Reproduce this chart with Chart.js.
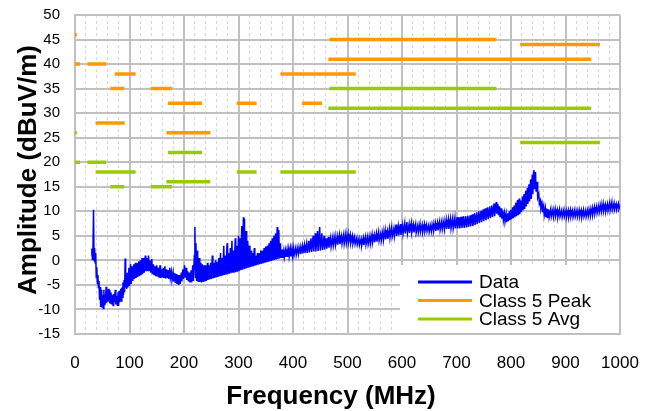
<!DOCTYPE html>
<html lang="en">
<head>
<meta charset="UTF-8">
<title>Radiated Emissions vs Class 5 Limits</title>
<script src="https://cdn.jsdelivr.net/npm/chart.js"></script>
<style>
  body { margin: 0; background: #fff; }
  .wrap { width: 647px; height: 411px; position: relative; }
</style>
</head>
<body>
<div class="wrap"><canvas id="chart"></canvas></div>
<script>
// limit bands (MHz) and their class 5 levels (dBuV/m)
const bandStart = [0.15, 0.53, 5.9, 26, 30, 41, 68, 76, 142, 171, 174, 300, 380, 420, 468, 470, 820];
const bandStop  = [0.30, 1.8, 6.2, 28, 54, 88, 87, 108, 175, 245, 230, 330, 512, 450, 944, 770, 960];
const peakLimit = [46, 40, 40, 40, 40, 28, 35, 38, 35, 26, 32, 32, 38, 32, 41, 45, 44];
const avgLimit  = [26, 20, 20, 20, 20, 18, 15, 18, 15, 16, 22, 18, 18, 18, 31, 35, 24];

const xTitle = 'Frequency (MHz)';
const yTitle = 'Amplitude (dBuV/m)';

const traceData = [
  [30,1.0],[31,2.4],[32,0.2],[33,2.8],[34,10.3],[35,0.0],[36,2.5],[37,-0.5],[38,1.5],[39,-3.5],
  [40,-1.4],[41,-4.7],[42,-3.0],[43,-5.5],[44,-4.2],[45,-8.0],[46,-5.4],[47,-9.5],[48,-6.0],[49,-9.6],
  [50,-7.0],[51,-9.0],[52,-9.8],[53,-6.0],[54,-9.0],[55,-7.0],[56,-8.8],[57,-5.4],[58,-8.6],[59,-6.5],
  [60,-8.5],[61,-5.8],[62,-8.3],[63,-6.0],[64,-8.8],[66,-6.5],[67,-9.0],[68,-7.0],[70,-9.2],[71,-6.8],
  [72,-8.5],[74,-6.0],[75,-9.0],[76,-7.2],[78,-9.3],[79,-6.5],[80,-9.3],[81,-6.2],[82,-8.5],[84,-5.8],
  [85,-8.3],[86,-5.5],[87,-7.5],[88,-4.5],[89,-7.0],[90,-4.0],[91,-6.5],[92,0.4],[93,-5.5],[94,-3.0],
  [95,-5.8],[96,-2.5],[97,-5.5],[99,-1.5],[100,-5.2],[102,-0.8],[103,-4.8],[105,-1.2],[106,-4.2],[108,-0.8],
  [109,-3.8],[111,-0.5],[112,-3.6],[114,-0.5],[115,-3.4],[117,-0.2],[118,-3.2],[120,0.0],[121,-3.0],[123,0.5],
  [124,-2.8],[126,0.5],[127,-2.5],[129,1.0],[130,-2.2],[132,0.5],[133,-2.2],[135,1.0],[136,-2.2],[138,0.0],
  [139,-2.5],[141,0.3],[142,-2.8],[144,-0.8],[145,-3.0],[147,-1.2],[148,-3.2],[150,-1.0],[151,-3.3],[153,-1.5],
  [154,-3.5],[156,-1.0],[157,-3.6],[159,-1.8],[160,-3.5],[162,-1.5],[163,-3.6],[165,-1.2],[166,-3.7],[168,-1.8],
  [169,-3.6],[171,-2.0],[172,-3.8],[174,-1.5],[175,-3.6],[177,-2.3],[178,-4.0],[180,-2.5],[181,-4.3],[183,-2.6],
  [184,-4.6],[186,-2.8],[187,-4.8],[189,-3.0],[190,-5.0],[192,-3.0],[193,-4.8],[195,-2.5],[196,-4.3],[198,-1.8],
  [199,-3.8],[201,-1.0],[202,-3.5],[204,-1.5],[205,-4.0],[207,-2.2],[208,-4.3],[210,-2.5],[211,-4.5],[213,-2.0],
  [214,-4.5],[216,-1.0],[217,-4.2],[219,1.0],[220,6.8],[221,-3.5],[222,3.5],[223,-4.2],[225,2.0],[226,-4.4],
  [228,0.5],[229,-4.4],[231,-0.5],[232,-4.5],[234,-0.8],[235,-4.4],[237,-1.0],[238,-4.3],[240,-1.0],[241,-4.2],
  [243,-0.5],[244,-4.0],[246,-1.0],[247,-3.9],[249,-0.5],[250,-3.8],[252,1.0],[253,-3.7],[255,-0.5],[256,-3.6],
  [258,0.0],[259,-3.5],[261,-0.3],[262,-3.4],[264,0.5],[265,-3.3],[267,1.5],[268,-3.2],[270,0.5],[271,-3.1],
  [273,3.0],[274,-3.0],[276,1.0],[277,-2.9],[279,3.5],[280,-2.8],[282,1.5],[283,-2.7],[285,2.5],[286,-2.6],
  [288,4.0],[289,-2.5],[291,2.0],[292,-2.5],[294,4.5],[295,-2.4],[297,3.0],[298,-2.3],[300,5.0],[301,-2.2],
  [303,4.5],[304,-2.0],[306,7.0],[307,-1.9],[309,8.8],[310,-1.8],[311,8.5],[312,-1.7],[314,6.0],[315,-1.6],
  [317,4.0],[318,-1.5],[320,3.0],[321,-1.4],[323,2.0],[324,-1.3],[326,1.5],[327,-1.2],[329,2.5],[330,-1.1],
  [332,1.0],[333,-1.0],[335,1.5],[336,-0.9],[338,1.5],[339,-0.8],[341,2.0],[342,-0.7],[344,2.0],[345,-0.6],
  [347,2.5],[348,-0.5],[350,2.8],[351,-0.4],[353,3.0],[354,-0.3],[356,3.5],[357,-0.2],[359,4.0],[360,-0.1],
  [362,4.5],[363,0.0],[365,5.0],[366,0.1],[368,5.5],[369,0.2],[371,6.8],[372,0.3],[374,6.2],[375,0.4],
  [377,3.5],[378,0.5],[380,2.2],[381,0.5],[383,2.0],[384,0.6],[386,2.0],[387,0.7],[389,2.2],[390,0.7],
  [392,2.3],[393,0.8],[395,2.4],[396,0.8],[398,2.4],[399,0.9],[401,2.5],[402,1.0],[405,2.6],[406,1.1],
  [409,2.7],[410,1.2],[413,2.8],[414,1.3],[417,3.0],[418,1.4],[421,3.2],[422,1.5],[425,3.5],[426,1.5],
  [429,4.0],[430,1.6],[433,4.5],[434,1.7],[437,5.0],[438,1.8],[441,5.5],[442,1.8],[445,6.0],[446,1.9],
  [449,6.8],[450,2.0],[453,5.5],[454,2.1],[457,5.0],[458,2.2],[461,4.5],[462,2.4],[465,4.8],[466,2.6],
  [469,4.6],[470,2.8],[473,4.8],[474,3.0],[477,5.0],[478,3.1],[481,4.9],[482,3.2],[485,5.2],[486,3.3],
  [489,5.0],[490,3.4],[493,5.3],[494,3.4],[497,5.5],[498,3.5],[501,5.4],[502,3.6],[505,5.2],[506,3.5],
  [509,5.0],[510,3.4],[513,4.8],[514,3.3],[517,4.6],[518,3.2],[521,4.5],[522,3.1],[525,4.4],[526,3.0],
  [529,4.6],[530,3.1],[533,4.8],[534,3.2],[537,4.9],[538,3.3],[541,5.0],[542,3.4],[545,5.3],[546,3.6],
  [549,5.2],[550,3.7],[553,5.5],[554,3.8],[557,5.8],[558,4.0],[561,5.6],[562,4.0],[565,6.0],[566,4.1],
  [569,6.2],[570,4.3],[573,6.0],[574,4.4],[577,6.5],[578,4.6],[581,6.8],[582,4.8],[585,6.5],[586,4.9],
  [589,7.3],[590,5.0],[593,7.0],[594,5.1],[597,7.4],[598,5.2],[601,7.2],[602,5.4],[605,7.6],[606,5.5],
  [609,7.8],[610,5.5],[613,7.4],[614,5.6],[617,7.6],[618,5.7],[621,7.3],[622,5.7],[625,7.4],[626,5.6],
  [629,7.2],[630,5.7],[633,7.5],[634,5.8],[637,7.3],[638,5.8],[641,7.4],[642,5.9],[645,7.3],[646,5.9],
  [649,7.2],[650,5.8],[653,7.3],[654,5.9],[657,7.5],[658,6.0],[661,7.6],[662,6.0],[665,7.7],[666,6.1],
  [669,7.9],[670,6.2],[673,8.0],[674,6.3],[677,8.1],[678,6.3],[681,8.3],[682,6.4],[685,8.4],[686,6.4],
  [689,8.5],[690,6.5],[693,8.6],[694,6.5],[697,8.7],[698,6.5],[701,8.8],[702,6.5],[705,8.8],[706,6.5],
  [709,8.9],[710,6.6],[713,9.0],[714,6.6],[717,9.0],[718,6.7],[721,9.1],[722,6.8],[725,9.2],[726,6.9],
  [729,9.4],[730,7.0],[733,9.6],[734,7.2],[737,9.8],[738,7.4],[741,10.0],[742,7.6],[745,10.1],[746,7.8],
  [749,10.4],[750,8.0],[753,10.6],[754,8.2],[757,10.8],[758,8.4],[761,11.0],[762,8.6],[765,11.2],[766,8.8],
  [769,11.6],[770,9.0],[773,11.9],[774,9.5],[776,11.5],[777,9.2],[779,11.0],[780,8.8],[782,10.6],[783,8.5],
  [785,10.2],[786,8.2],[788,9.6],[789,7.9],[791,9.4],[792,7.8],[794,9.6],[795,8.0],[797,10.0],[798,8.2],
  [800,10.3],[801,8.4],[803,10.8],[804,8.6],[806,11.2],[807,8.8],[809,11.8],[810,9.0],[812,12.3],[813,9.2],
  [815,12.6],[816,9.4],[818,12.2],[819,9.8],[821,13.0],[822,10.2],[824,13.5],[825,10.5],[827,14.2],[828,11.0],
  [830,14.8],[831,11.5],[833,15.5],[834,12.0],[836,16.5],[837,12.5],[839,17.5],[840,13.5],[842,18.4],[843,14.5],
  [845,18.0],[846,14.0],[848,16.0],[849,12.8],[851,13.5],[852,11.5],[854,12.2],[855,10.5],[857,11.5],[858,9.8],
  [860,11.0],[861,9.2],[863,10.6],[864,8.8],[866,10.5],[867,8.6],[869,10.4],[870,8.8],[873,10.5],[874,8.9],
  [877,10.4],[878,8.8],[881,10.5],[882,9.0],[885,10.3],[886,8.8],[889,10.4],[890,8.9],[893,10.2],[894,8.8],
  [897,10.3],[898,8.9],[901,10.2],[902,8.8],[905,10.2],[906,8.8],[909,10.3],[910,8.9],[913,10.2],[914,8.8],
  [917,10.3],[918,8.9],[921,10.2],[922,8.9],[925,10.3],[926,8.9],[929,10.2],[930,8.8],[933,10.3],[934,8.9],
  [937,10.2],[938,8.9],[941,10.4],[942,9.0],[945,10.5],[946,9.1],[949,10.7],[950,9.3],[953,10.9],[954,9.5],
  [957,11.0],[958,9.6],[961,11.2],[962,9.8],[965,11.5],[966,9.9],[969,11.6],[970,10.0],[973,11.4],[974,10.0],
  [977,11.5],[978,10.1],[981,11.8],[982,10.2],[985,11.9],[986,10.3],[989,11.7],[990,10.3],[993,11.5],[994,10.4],
  [997,11.6],[998,10.5],[1000,11.2]
];

const FONT = '"Liberation Sans", Arial, sans-serif';
Chart.defaults.font.family = FONT;
Chart.defaults.color = '#000';

// each band becomes a flat segment, broken by a null point
function limitSegments(levels) {
  const pts = [];
  for (let i = 0; i < levels.length; i++) {
    pts.push({ x: bandStart[i], y: levels[i] });
    pts.push({ x: bandStop[i], y: levels[i] });
    pts.push({ x: bandStop[i], y: null });
  }
  return pts;
}

const isMajor = v => Math.round(v) % 100 === 0;

// legend box sitting in the lower right of the plot
const insideLegend = {
  id: 'insideLegend',
  afterDatasetsDraw(chart) {
    const { ctx, chartArea: a } = chart;
    ctx.save();
    ctx.fillStyle = '#fff';
    ctx.fillRect(a.right - 220, a.bottom - 69, 219, 68);
    ctx.font = '19px ' + FONT;
    ctx.textBaseline = 'middle';
    chart.data.datasets.forEach((ds, i) => {
      const y = a.bottom - 52 + i * 18.5;
      ctx.strokeStyle = ds.borderColor;
      ctx.lineWidth = 3;
      ctx.beginPath();
      ctx.moveTo(a.right - 202, y);
      ctx.lineTo(a.right - 148, y);
      ctx.stroke();
      ctx.fillStyle = '#000';
      ctx.fillText(ds.label, a.right - 141, y + 1);
    });
    ctx.restore();
  }
};

const axisTitles = {
  id: 'axisTitles',
  afterDraw(chart) {
    const ctx = chart.ctx;
    ctx.save();
    ctx.fillStyle = '#000';
    ctx.font = 'bold 26px ' + FONT;
    ctx.textAlign = 'center';
    ctx.textBaseline = 'alphabetic';
    ctx.fillText(xTitle, 331, 404);
    ctx.translate(36, 170);
    ctx.rotate(-Math.PI / 2);
    ctx.fillText(yTitle, 0, 0);
    ctx.restore();
  }
};

new Chart(document.getElementById('chart'), {
  type: 'line',
  data: {
    datasets: [
      { label: 'Data', data: traceData.map(p => ({ x: p[0], y: p[1] })),
        borderColor: '#0000ff', borderWidth: 1.5, pointRadius: 0, tension: 0 },
      { label: 'Class 5 Peak', data: limitSegments(peakLimit),
        borderColor: '#ff9900', borderWidth: 3.5, borderCapStyle: 'square', pointRadius: 0 },
      { label: 'Class 5 Avg', data: limitSegments(avgLimit),
        borderColor: '#99cc00', borderWidth: 3.5, borderCapStyle: 'square', pointRadius: 0 }
    ]
  },
  options: {
    responsive: true,
    maintainAspectRatio: false,
    animation: false,
    events: [],
    layout: { padding: { top: 15, right: 27, left: 0, bottom: 0 } },
    plugins: { legend: { display: false }, tooltip: { enabled: false } },
    scales: {
      x: {
        type: 'linear', min: 0, max: 1000,
        ticks: {
          stepSize: 20, autoSkip: false, maxRotation: 0, padding: 0,
          font: { size: 17 },
          callback: v => isMajor(v) ? v : ''
        },
        grid: {
          drawTicks: true, tickLength: 19, tickColor: 'rgba(0,0,0,0)',
          color: c => c.tick && !isMajor(c.tick.value) ? '#d6d6d6' : '#c0c0c0',
          lineWidth: c => c.tick && !isMajor(c.tick.value) ? 1 : 2
        },
        border: {
          color: '#c0c0c0', width: 2,
          dash: c => c.tick && !isMajor(c.tick.value) ? [3, 3] : []
        },
        afterFit: s => { s.height = 77; }
      },
      y: {
        min: -15, max: 50,
        ticks: { stepSize: 5, padding: 0, font: { size: 15 } },
        grid: { drawTicks: true, tickLength: 15, tickColor: 'rgba(0,0,0,0)', color: '#c0c0c0', lineWidth: 2 },
        border: { color: '#c0c0c0', width: 2 },
        afterFit: s => { s.width = 75; }
      }
    }
  },
  plugins: [insideLegend, axisTitles]
});
</script>
</body>
</html>
